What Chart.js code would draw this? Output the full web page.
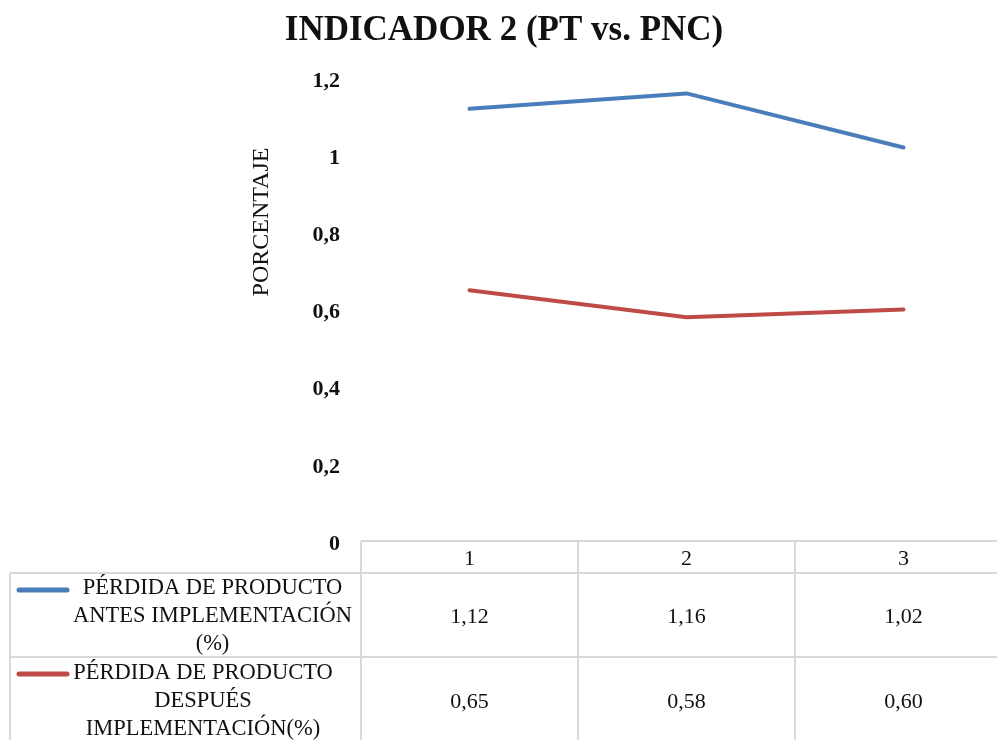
<!DOCTYPE html>
<html>
<head>
<meta charset="utf-8">
<script src="https://cdn.jsdelivr.net/npm/chart.js@4.4.1/dist/chart.umd.min.js"></script>
<style>
html,body{margin:0;padding:0;background:#fff;overflow:hidden;}
#wrap{width:997px;height:740px;overflow:hidden;position:relative;}
#wrap canvas{position:absolute;left:0;top:0;}
</style>
</head>
<body>
<div id="wrap"><canvas id="c" width="1015" height="740" style="width:1015px;height:740px"></canvas></div>
<script>
const chartTitle = 'INDICADOR 2 (PT vs. PNC)';
const axisTitle = 'PORCENTAJE';
const categories = ['1', '2', '3'];
const antesValues = [1.12, 1.16, 1.02];
const despuesValues = [0.65, 0.58, 0.60];
const antesLabel = ['PÉRDIDA DE PRODUCTO', 'ANTES IMPLEMENTACIÓN', '(%)'];
const despuesLabel = ['PÉRDIDA DE PRODUCTO', 'DESPUÉS', 'IMPLEMENTACIÓN(%)'];
const yTicks = [0, 0.2, 0.4, 0.6, 0.8, 1, 1.2];

const SERIF = '"Liberation Serif", "Times New Roman", serif';
const GRID = '#d9d9d9';
const TEXT = '#111111';
const fmt = v => v.toFixed(2).replace('.', ',');

const tablePlugin = {
  id: 'tablePlugin',
  afterDraw(chart) {
    const ctx = chart.ctx;
    const ca = chart.chartArea;
    const xs = chart.scales.x;
    const ys = chart.scales.y;
    const catW = (ca.right - ca.left) / categories.length;
    const top = ys.getPixelForValue(0);
    const row1 = top + 32;
    const row2 = row1 + 84;
    const bottom = 745;
    const tableLeft = 10;
    ctx.save();
    // title
    ctx.fillStyle = TEXT;
    ctx.font = 'bold 35px ' + SERIF;
    ctx.textAlign = 'center';
    ctx.textBaseline = 'middle';
    ctx.fillText(chartTitle, 504, 31);
    // axis title
    ctx.save();
    ctx.translate(262, 222);
    ctx.rotate(-Math.PI / 2);
    ctx.font = '24px ' + SERIF;
    ctx.fillText(axisTitle, 0, 0);
    ctx.restore();
    // grid of data table
    ctx.strokeStyle = GRID;
    ctx.lineWidth = 2;
    ctx.beginPath();
    ctx.moveTo(ca.left, top); ctx.lineTo(ca.right + 5, top);
    ctx.moveTo(tableLeft, row1); ctx.lineTo(ca.right + 5, row1);
    ctx.moveTo(tableLeft, row2); ctx.lineTo(ca.right + 5, row2);
    ctx.moveTo(tableLeft, row1); ctx.lineTo(tableLeft, bottom);
    for (let i = 0; i <= categories.length; i++) {
      const x = i < categories.length ? xs.getPixelForValue(i) - catW / 2 : ca.right;
      ctx.moveTo(x, top); ctx.lineTo(x, bottom);
    }
    ctx.stroke();
    // category labels and values
    ctx.fillStyle = TEXT;
    ctx.font = '22px ' + SERIF;
    categories.forEach((c, i) => {
      const x = xs.getPixelForValue(i);
      ctx.fillText(c, x, top + 18);
      ctx.fillText(fmt(antesValues[i]), x, row1 + 44);
      ctx.fillText(fmt(despuesValues[i]), x, row2 + 45);
    });
    // legend keys
    const ds = chart.data.datasets;
    ctx.lineCap = 'round';
    ctx.lineWidth = 5;
    ctx.strokeStyle = ds[0].borderColor;
    ctx.beginPath(); ctx.moveTo(19, row1 + 17); ctx.lineTo(67, row1 + 17); ctx.stroke();
    ctx.strokeStyle = ds[1].borderColor;
    ctx.beginPath(); ctx.moveTo(19, row2 + 17); ctx.lineTo(67, row2 + 17); ctx.stroke();
    ctx.font = '22.5px ' + SERIF;
    antesLabel.forEach((t, k) => ctx.fillText(t, 212.5, row1 + 15 + k * 28));
    despuesLabel.forEach((t, k) => ctx.fillText(t, 203, row2 + 16 + k * 28));
    ctx.restore();
  }
};

new Chart(document.getElementById('c'), {
  type: 'line',
  data: {
    labels: categories,
    datasets: [
      { label: antesLabel.join(' '), data: antesValues, borderColor: '#4a7ebb', backgroundColor: '#4a7ebb', borderWidth: 4, pointRadius: 0, tension: 0, borderCapStyle: 'round', borderJoinStyle: 'round' },
      { label: despuesLabel.join(' '), data: despuesValues, borderColor: '#be4b48', backgroundColor: '#be4b48', borderWidth: 4, pointRadius: 0, tension: 0, borderCapStyle: 'round', borderJoinStyle: 'round' }
    ]
  },
  options: {
    responsive: false,
    animation: false,
    events: [],
    layout: { padding: { left: 0, top: 78, right: 3, bottom: 199 } },
    plugins: { legend: { display: false }, title: { display: false }, tooltip: { enabled: false } },
    scales: {
      x: { type: 'category', offset: true, display: false },
      y: {
        min: 0, max: 1.2,
        afterFit(axis) { axis.width = 361; },
        afterBuildTicks(axis) { axis.ticks = yTicks.map(v => ({ value: v })); },
        grid: { display: false, drawTicks: false },
        border: { display: false },
        ticks: {
          padding: 21,
          labelOffset: 3,
          color: TEXT,
          font: { family: SERIF, size: 22, weight: 'bold' },
          callback: v => String(v).replace('.', ',')
        }
      }
    }
  },
  plugins: [tablePlugin]
});
</script>
</body>
</html>
